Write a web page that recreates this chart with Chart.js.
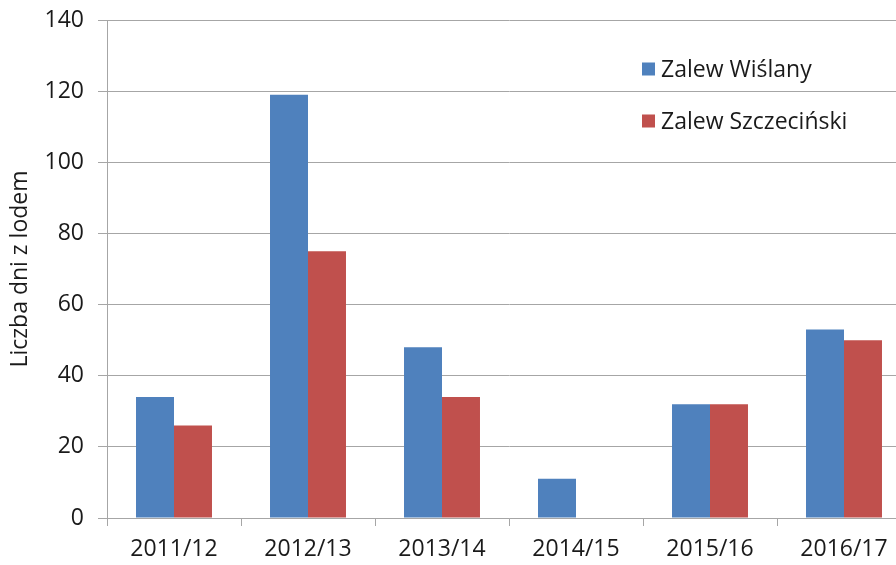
<!DOCTYPE html>
<html>
<head>
<meta charset="utf-8">
<script src="https://cdn.jsdelivr.net/npm/chart.js@4.4.0/dist/chart.umd.min.js"></script>
<style>
  html, body { margin: 0; padding: 0; background: #fff; overflow: hidden; }
  #wrap { width: 911px; height: 565px; }
</style>
</head>
<body>
<div id="wrap"><canvas id="chart" width="911" height="565"></canvas></div>
<script>
// seasons + ice days per lagoon
const seasons = ["2011/12", "2012/13", "2013/14", "2014/15", "2015/16", "2016/17"];
const wislany = [34, 119, 48, 11, 32, 53];
const szczecinski = [26, 75, 34, 0, 32, 50];
const seriesNames = ["Zalew Wiślany", "Zalew Szczeciński"];
const yTicks = [0, 20, 40, 60, 80, 100, 120, 140];

const BLUE = "#4F81BD";
const RED = "#C0504D";
const GRID = "#A6A6A6";
const FONT = "'Open Sans', sans-serif";

// legend drawn inside the plot, top right
const boxLegend = {
  id: "boxLegend",
  afterDraw(chart) {
    const ctx = chart.ctx;
    ctx.save();
    ctx.font = "23px " + FONT;
    ctx.textBaseline = "middle";
    chart.data.datasets.forEach((ds, i) => {
      const y = 69 + i * 52;
      ctx.fillStyle = ds.backgroundColor;
      ctx.fillRect(642, y - 6.5, 13, 13);
      ctx.fillStyle = "#1a1a1a";
      ctx.fillText(ds.label, 661, y + 1);
    });
    ctx.restore();
  }
};

new Chart(document.getElementById("chart"), {
  type: "bar",
  data: {
    labels: seasons,
    datasets: [
      { label: seriesNames[0], data: wislany, backgroundColor: BLUE },
      { label: seriesNames[1], data: szczecinski, backgroundColor: RED }
    ]
  },
  options: {
    responsive: false,
    animation: false,
    layout: { padding: { top: 20, right: 0, left: 0, bottom: 0 } },
    datasets: { bar: { categoryPercentage: 0.567, barPercentage: 1.0 } },
    plugins: { legend: { display: false }, tooltip: { enabled: false } },
    scales: {
      x: {
        afterFit: (s) => { s.height = 47; s.paddingLeft = 0; s.paddingRight = 0; },
        grid: { drawOnChartArea: false, drawTicks: true, tickLength: 8, color: GRID },
        border: { color: GRID },
        ticks: { color: "#1a1a1a", font: { family: FONT, size: 23 }, padding: 10, maxRotation: 0 }
      },
      y: {
        min: 0,
        max: 140,
        afterFit: (s) => { s.width = 107; s.paddingTop = 0; s.paddingBottom = 0; },
        afterBuildTicks: (s) => { s.ticks = yTicks.map((v) => ({ value: v })); },
        grid: { color: GRID, tickLength: 9 },
        border: { color: GRID },
        ticks: { color: "#1a1a1a", font: { family: FONT, size: 23 }, padding: 14 },
        title: {
          display: true,
          text: "Liczba dni z lodem",
          color: "#1a1a1a",
          font: { family: FONT, size: 23 },
          padding: { top: 7, bottom: 0 }
        }
      }
    }
  },
  plugins: [boxLegend]
});
</script>
</body>
</html>
